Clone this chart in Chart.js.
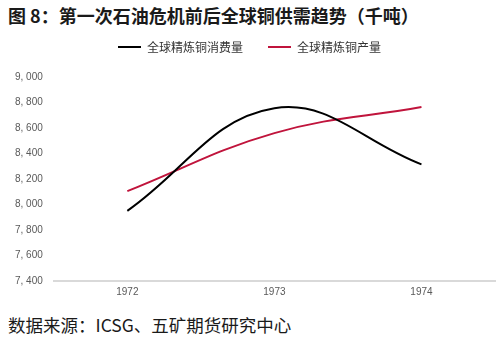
<!DOCTYPE html>
<html>
<head>
<meta charset="utf-8">
<script src="https://cdn.jsdelivr.net/npm/chart.js@4/dist/chart.umd.min.js"></script>
<style>
  body { margin: 0; background: #fff; width: 500px; height: 345px; overflow: hidden; position: relative; font-family: "Noto Sans CJK SC", sans-serif; }
  #title { position: absolute; left: 8px; top: 3px; line-height: 24px; font-size: 18px; font-weight: bold; color: #1a1a1a; }
  #source { position: absolute; left: 8px; top: 313px; line-height: 24px; font-size: 17.5px; color: #1a1a1a; }
  #wrap { position: absolute; left: 0; top: 16px; width: 500px; height: 287px; }
</style>
</head>
<body>
<div id="title">图 8：第一次石油危机前后全球铜供需趋势（千吨）</div>
<div id="wrap"><canvas id="chart"></canvas></div>
<div id="source">数据来源：ICSG、五矿期货研究中心</div>
<script>
let years = ["1972", "1973", "1974"];
let consumption = [7950, 8755, 8315];
let production = [8105, 8560, 8765];

// push the plot area down a bit below the legend
let legendGap = {
    id: 'legendGap',
    beforeInit(chart) {
        let fit = chart.legend.fit;
        chart.legend.fit = function() {
            fit.bind(chart.legend)();
            this.height += 14;
        };
    }
};

let ctx = document.getElementById('chart');
let chart = new Chart(ctx, {
    type: 'line',
    data: {
        labels: years,
        datasets: [
            {label: "全球精炼铜消费量", data: consumption, borderColor: "#000000", backgroundColor: "#000000", borderWidth: 2, pointRadius: 0, tension: 0.4},
            {label: "全球精炼铜产量", data: production, borderColor: "#c0143c", backgroundColor: "#c0143c", borderWidth: 2, pointRadius: 0, tension: 0.4}
        ]
    },
    plugins: [legendGap],
    options: {
        responsive: true,
        maintainAspectRatio: false,
        animation: false,
        layout: {padding: {left: 4, right: 5, top: 0, bottom: 0}},
        plugins: {
            legend: {
                labels: {
                    boxWidth: 23, boxHeight: 2, padding: 25,
                    color: "#333", font: {size: 12, family: "Noto Sans CJK SC"},
                    generateLabels: c => Chart.defaults.plugins.legend.labels.generateLabels(c).map(l => {
                        l.lineWidth = 0;
                        return l;
                    })
                }
            },
            tooltip: {enabled: false}
        },
        scales: {
            x: {
                offset: true,
                grid: {display: false, drawTicks: false},
                border: {color: "#d9d9d9", width: 2},
                ticks: {color: "#595959", font: {size: 10}, padding: 5}
            },
            y: {
                min: 7400, max: 9000,
                grid: {display: false, drawTicks: false},
                border: {display: false},
                ticks: {
                    stepSize: 200, color: "#595959", font: {size: 10}, padding: 11,
                    callback: v => Math.floor(v / 1000) + ", " + String(v % 1000).padStart(3, "0")
                }
            }
        }
    }
});
</script>
</body>
</html>
